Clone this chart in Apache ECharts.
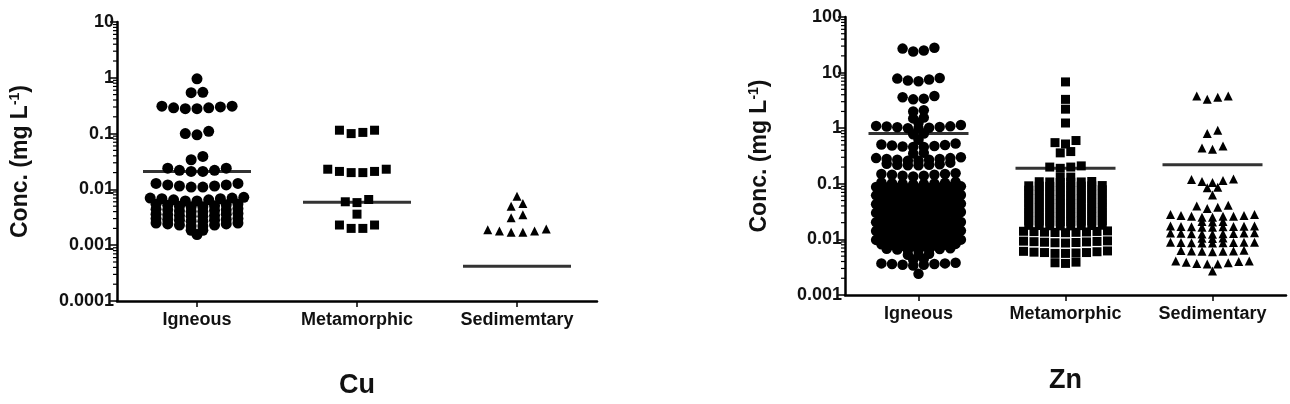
<!DOCTYPE html>
<html>
<head>
<meta charset="utf-8">
<script src="https://cdn.jsdelivr.net/npm/echarts@6/dist/echarts.min.js"></script>
<style>
  html, body { margin: 0; background: #fff; }
  #chart { width: 1290px; height: 404px; }
</style>
</head>
<body>
<div id="chart"></div>
<script>
// categories and tick labels
const cuCategories = ['Igneous', 'Metamorphic', 'Sedimemtary']
const znCategories = ['Igneous', 'Metamorphic', 'Sedimentary']
const cuTickLabels = ['0.0001', '0.001', '0.01', '0.1', '1', '10']
const znTickLabels = ['0.001', '0.01', '0.1', '1', '10', '100']

// Cu concentrations (mg/L)
const cuIgneous = [
  0.96,
  0.54, 0.55,
  0.28, 0.28, 0.29, 0.29, 0.30, 0.31, 0.31,
  0.095, 0.10, 0.11,
  0.034, 0.039,
  0.021, 0.021, 0.022, 0.022, 0.024, 0.024,
  0.0110, 0.0110, 0.0115, 0.0115, 0.0120, 0.0120, 0.0128, 0.0128,
  0.0062, 0.0062, 0.0065, 0.0065, 0.0068, 0.0068, 0.0070, 0.0070, 0.0072,
  0.0049, 0.0049, 0.0050, 0.0051, 0.0052, 0.0053, 0.0054, 0.0055,
  0.0040, 0.0040, 0.0041, 0.0042, 0.0043, 0.0043, 0.0044, 0.0045,
  0.0033, 0.0033, 0.0034, 0.0034, 0.0035, 0.0036, 0.0036, 0.0037,
  0.0027, 0.0027, 0.0028, 0.0028, 0.0029, 0.0029, 0.0030, 0.0030,
  0.0022, 0.0022, 0.0023, 0.0023, 0.0024, 0.0024, 0.0025, 0.0025,
  0.00185, 0.00185,
  0.00155
]
const cuMetamorphic = [
  0.100, 0.105, 0.115, 0.115,
  0.020, 0.020, 0.021, 0.021, 0.023, 0.023,
  0.0058, 0.0060, 0.0066,
  0.0036,
  0.0020, 0.0020, 0.0023, 0.0023
]
const cuSedimentary = [
  0.0075,
  0.0050, 0.0056,
  0.0031, 0.0035,
  0.0017, 0.0017, 0.0018, 0.0018, 0.0019, 0.00195
]
const cuMeans = [0.021, 0.0059, 0.00042]

// Zn concentrations (mg/L)
const znIgneous = [
  24, 25, 27, 28,
  7.0, 7.2, 7.5, 7.8, 8.0,
  3.3, 3.4, 3.6, 3.8,
  2.0, 2.1,
  1.5, 1.55,
  1.25,
  1.0, 1.0, 1.02, 1.04, 1.05, 1.07, 1.08, 1.10, 1.14,
  0.78, 0.80,
  0.62,
  0.46, 0.46, 0.47, 0.48, 0.49, 0.50, 0.51, 0.53,
  0.35, 0.36,
  0.26, 0.26, 0.27, 0.27, 0.28, 0.28, 0.29, 0.29, 0.30,
  0.215, 0.215, 0.22, 0.22, 0.225, 0.23, 0.24,
  0.135, 0.14, 0.14, 0.145, 0.145, 0.15, 0.15, 0.155,
  0.098, 0.099, 0.100, 0.101, 0.102, 0.104, 0.106, 0.108,
  0.082, 0.082, 0.083, 0.084, 0.085, 0.086, 0.087, 0.088, 0.090,
  0.068, 0.068, 0.069, 0.070, 0.071, 0.072, 0.073, 0.074,
  0.057, 0.057, 0.058, 0.059, 0.060, 0.060, 0.061, 0.062, 0.063,
  0.047, 0.047, 0.048, 0.048, 0.049, 0.050, 0.051, 0.052,
  0.039, 0.039, 0.040, 0.040, 0.041, 0.042, 0.042, 0.043, 0.044,
  0.033, 0.033, 0.034, 0.034, 0.035, 0.035, 0.036, 0.037,
  0.027, 0.027, 0.028, 0.028, 0.029, 0.029, 0.030, 0.030, 0.031,
  0.0225, 0.0225, 0.023, 0.023, 0.0235, 0.024, 0.0245, 0.025,
  0.0188, 0.0188, 0.019, 0.0193, 0.0195, 0.0198, 0.020, 0.0203, 0.0206,
  0.0157, 0.0157, 0.016, 0.016, 0.0163, 0.0165, 0.0168, 0.017,
  0.0131, 0.0131, 0.0133, 0.0135, 0.0137, 0.0138, 0.014, 0.0142, 0.0144,
  0.0109, 0.0109, 0.011, 0.0112, 0.0113, 0.0115, 0.0117, 0.0119,
  0.0091, 0.0091, 0.0092, 0.0093, 0.0094, 0.0095, 0.0097, 0.0098, 0.0099,
  0.0076, 0.0076, 0.0077, 0.0078, 0.0079, 0.0080, 0.0082, 0.0083,
  0.0063, 0.0064, 0.0065, 0.0066, 0.0067, 0.0068, 0.0069,
  0.0052, 0.0053, 0.0055,
  0.0043, 0.0045,
  0.0034, 0.0035, 0.0035, 0.0036, 0.0036, 0.0037, 0.0037, 0.0038,
  0.0024
]
const znMetamorphic = [
  6.8,
  3.3,
  2.2,
  1.24,
  0.52, 0.55, 0.60,
  0.36, 0.38,
  0.19, 0.20, 0.20, 0.21,
  0.130, 0.132,
  0.106, 0.107, 0.108, 0.108, 0.109, 0.110,
  0.089, 0.090, 0.090, 0.091, 0.091, 0.092, 0.092, 0.093,
  0.074, 0.075, 0.075, 0.076, 0.076, 0.077, 0.077, 0.078,
  0.062, 0.062, 0.063, 0.063, 0.064, 0.064, 0.065, 0.065,
  0.052, 0.052, 0.0525, 0.053, 0.053, 0.0535, 0.054, 0.054,
  0.0435, 0.0435, 0.044, 0.044, 0.0445, 0.0445, 0.045, 0.045,
  0.0362, 0.0362, 0.0365, 0.0367, 0.037, 0.037, 0.0372, 0.0375,
  0.0302, 0.0302, 0.0305, 0.0305, 0.0308, 0.031, 0.031, 0.0312,
  0.0252, 0.0252, 0.0254, 0.0255, 0.0256, 0.0258, 0.0259, 0.026,
  0.0210, 0.0210, 0.0212, 0.0213, 0.0214, 0.0215, 0.0216, 0.0217,
  0.0175, 0.0175, 0.0176, 0.0177, 0.0178, 0.0178, 0.0179, 0.0180,
  0.0132, 0.0133, 0.0134, 0.0135, 0.0136, 0.0138, 0.0139, 0.0140, 0.0142,
  0.0086, 0.0087, 0.0088, 0.0089, 0.0090, 0.0091, 0.0092, 0.0093, 0.0094,
  0.0056, 0.0056, 0.0057, 0.0058, 0.0058, 0.0059, 0.0060, 0.0061, 0.0062,
  0.0037, 0.0038, 0.0039
]
const znSedimentary = [
  3.3, 3.6, 3.8, 3.8,
  0.80, 0.92,
  0.42, 0.44, 0.48,
  0.105, 0.11, 0.115, 0.12, 0.122,
  0.085, 0.087,
  0.063,
  0.036, 0.038, 0.040, 0.041,
  0.025, 0.025, 0.026, 0.026, 0.026, 0.027, 0.027, 0.028, 0.028,
  0.0205, 0.021, 0.021,
  0.0165, 0.0166, 0.0168, 0.0169, 0.017, 0.0171, 0.0172, 0.0174, 0.0175,
  0.0124, 0.0125, 0.0126, 0.0127, 0.0128, 0.0129, 0.013, 0.0131, 0.0132,
  0.0104, 0.0105, 0.0106,
  0.0086, 0.0086, 0.0087, 0.0087, 0.0088, 0.0088, 0.0089, 0.0089, 0.0089,
  0.0060, 0.0061, 0.0061, 0.0062, 0.0062, 0.0063, 0.0064,
  0.0036, 0.0036, 0.0037, 0.0038, 0.0039, 0.0040, 0.0041, 0.0041,
  0.0027
]
const znMeans = [0.8, 0.19, 0.22]

const FONT = '"Liberation Sans", Arial, sans-serif'
const TEXT = '#111'

const cuGrid = { left: 117, top: 22, width: 480, height: 280 }
const znGrid = { left: 845, top: 17, width: 441, height: 278 }
const cuRange = [0.0001, 10]
const znRange = [0.001, 100]

// GraphPad-like scatter layout: values that sit on the same row are spread
// side by side, smallest in the middle, larger ones alternating outwards
function swarm(values, catIndex, range, grid, opts) {
  const pxPerDecade = grid.height / (Math.log10(range[1]) - Math.log10(range[0]))
  const lim = opts.rowPx / pxPerDecade
  const sorted = values.slice().sort((a, b) => a - b)
  const out = []
  let i = 0
  while (i < sorted.length) {
    const base = Math.log10(sorted[i])
    let j = i
    while (j < sorted.length && Math.log10(sorted[j]) - base <= lim) j++
    const row = sorted.slice(i, j)
    const n = Math.min(row.length, opts.maxCols)
    const slots = []
    if (n % 2) {
      slots.push(0)
      for (let k = 1; slots.length < n; k++) {
        slots.push(-k)
        if (slots.length < n) slots.push(k)
      }
    } else {
      for (let k = 0.5; slots.length < n; k++) {
        slots.push(-k, k)
      }
    }
    row.forEach((v, k) => {
      out.push({ value: [catIndex, v], symbolOffset: [slots[k % n] * opts.spacing, 0] })
    })
    i = j
  }
  return out
}

function minorTickValues(range) {
  const res = []
  for (let e = Math.log10(range[0]); e < Math.log10(range[1]); e++) {
    for (let m = 2; m <= 9; m++) res.push([0, m * Math.pow(10, e)])
  }
  return res
}

function tickFormatter(labels, range) {
  return (v) => {
    const idx = Math.round(Math.log10(v) - Math.log10(range[0]))
    return labels[idx] !== undefined ? labels[idx] : ''
  }
}

const axisLine = { show: true, lineStyle: { color: '#000', width: 2.5 } }

function makeXAxis(idx, cats, title, gap) {
  return {
    type: 'category',
    gridIndex: idx,
    data: cats,
    boundaryGap: true,
    axisLine: axisLine,
    axisTick: { show: true, alignWithLabel: true, length: 6, lineStyle: { color: '#000', width: 1.5 } },
    axisLabel: { color: TEXT, fontSize: 18, fontWeight: 'bold', fontFamily: FONT, margin: 10 },
    splitLine: { show: false },
    name: title,
    nameLocation: 'middle',
    nameGap: gap,
    nameTextStyle: { color: TEXT, fontSize: 27, fontWeight: 'bold', fontFamily: FONT }
  }
}

function makeYAxis(idx, range, labels, gap) {
  return {
    type: 'log',
    logBase: 10,
    gridIndex: idx,
    min: range[0],
    max: range[1],
    axisLine: axisLine,
    axisTick: { show: true, length: 7, lineStyle: { color: '#000', width: 1.5 } },
    axisLabel: {
      color: TEXT, fontSize: 18, fontWeight: 'bold', fontFamily: FONT, margin: 3,
      formatter: tickFormatter(labels, range)
    },
    splitLine: { show: false },
    name: 'Conc. (mg L{sup|-1})',
    nameLocation: 'middle',
    nameRotate: 90,
    nameGap: gap,
    nameTextStyle: {
      color: TEXT, fontSize: 23, fontWeight: 'bold', fontFamily: FONT,
      rich: {
        sup: { color: TEXT, fontSize: 14, fontWeight: 'bold', fontFamily: FONT, verticalAlign: 'top', lineHeight: 26 }
      }
    }
  }
}

function dots(idx, values, cat, range, grid, symbol, size, spacing, maxCols) {
  return {
    type: 'scatter',
    xAxisIndex: idx,
    yAxisIndex: idx,
    symbol: symbol,
    symbolSize: size,
    itemStyle: { color: '#000', opacity: 1 },
    data: swarm(values, cat, range, grid, { rowPx: 3.8, maxCols: maxCols, spacing: spacing }),
    z: 2,
    silent: true
  }
}

function meanLine(idx, means, width) {
  return {
    type: 'scatter',
    xAxisIndex: idx,
    yAxisIndex: idx,
    symbol: 'rect',
    symbolSize: [width, 3],
    itemStyle: { color: '#000' },
    data: means.map((m, i) => [i, m]),
    z: 3,
    silent: true
  }
}

function minorTicks(idx, range) {
  return {
    type: 'custom',
    xAxisIndex: idx,
    yAxisIndex: idx,
    clip: false,
    silent: true,
    data: minorTickValues(range),
    renderItem: (params, api) => {
      const p = api.coord([0, api.value(1)])
      const x0 = params.coordSys.x
      return {
        type: 'line',
        shape: { x1: x0 - 4, y1: p[1], x2: x0, y2: p[1] },
        style: { stroke: '#000', lineWidth: 1.2 }
      }
    },
    z: 1
  }
}

const chart = echarts.init(document.getElementById('chart'), null, { renderer: 'canvas' })

const option = {
  animation: false,
  backgroundColor: '#fff',
  grid: [
    Object.assign({ containLabel: false }, cuGrid),
    Object.assign({ containLabel: false }, znGrid)
  ],
  xAxis: [
    makeXAxis(0, cuCategories, 'Cu', 71),
    makeXAxis(1, znCategories, 'Zn', 72)
  ],
  yAxis: [
    makeYAxis(0, cuRange, cuTickLabels, 83),
    makeYAxis(1, znRange, znTickLabels, 72)
  ],
  series: [
    minorTicks(0, cuRange),
    minorTicks(1, znRange),
    dots(0, cuIgneous, 0, cuRange, cuGrid, 'circle', 11, 11.7, 9),
    dots(0, cuMetamorphic, 1, cuRange, cuGrid, 'rect', 9, 11.7, 9),
    dots(0, cuSedimentary, 2, cuRange, cuGrid, 'triangle', 9, 11.7, 9),
    meanLine(0, cuMeans, 108),
    dots(1, znIgneous, 0, znRange, znGrid, 'circle', 10.5, 10.6, 9),
    dots(1, znMetamorphic, 1, znRange, znGrid, 'rect', 9, 10.5, 9),
    dots(1, znSedimentary, 2, znRange, znGrid, 'triangle', 9, 10.5, 9),
    meanLine(1, znMeans, 100)
  ]
}

chart.setOption(option)
window.addEventListener('resize', () => chart.resize())
</script>
</body>
</html>
